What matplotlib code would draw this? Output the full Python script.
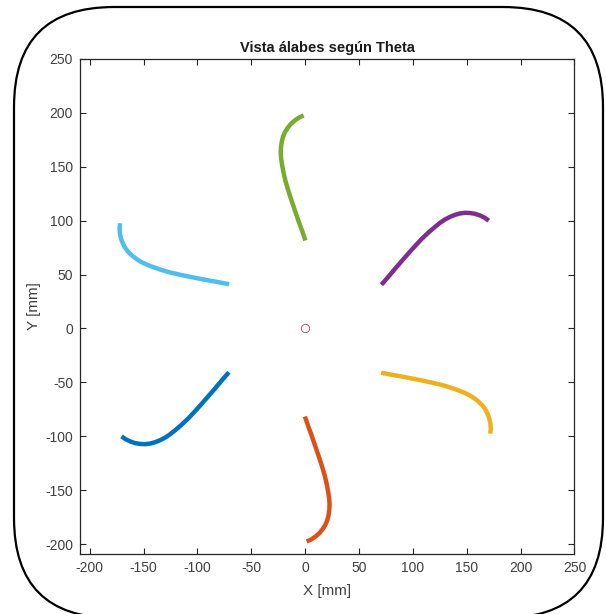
"""Vista de los álabes del rodete según Theta (réplica de figura MATLAB)."""

import matplotlib

matplotlib.use("Agg")
import matplotlib.pyplot as plt
import numpy as np
from matplotlib.patches import FancyBboxPatch
from matplotlib.transforms import IdentityTransform

plt.rcParams["font.family"] = ["Liberation Sans", "DejaVu Sans"]
plt.rcParams["axes.unicode_minus"] = False

# perfil del álabe base (el morado), en mm
blade_x = [70.8, 77.5, 83.7, 89.8, 96.0, 102.1, 108.3, 114.4, 120.6, 125.2,
           129.8, 134.4, 139.1, 143.7, 148.3, 152.9, 157.5, 162.1, 166.7, 170.4]
blade_y = [40.6, 48.3, 55.7, 62.7, 69.8, 76.6, 83.2, 89.0, 94.3, 98.0,
           101.1, 103.5, 105.4, 106.7, 107.3, 107.1, 106.4, 104.9, 102.7, 100.0]

# giro de cada álabe respecto al base (grados), en el orden de dibujo
theta_deg = [180, 240, 300, 360, 420, 480]

# colores por defecto de MATLAB
colors = ["#0072BD", "#D95319", "#EDB120", "#7E2F8E", "#77AC30", "#4DBEEE"]
hub_color = "#A2142F"

xticks = [-200, -150, -100, -50, 0, 50, 100, 150, 200, 250]
yticks = [-200, -150, -100, -50, 0, 50, 100, 150, 200, 250]

fig = plt.figure(figsize=(6.06, 6.14), dpi=100)
ax = fig.add_axes([0.132, 0.098, 0.816, 0.806])

bx = np.array(blade_x)
by = np.array(blade_y)
for th, col in zip(theta_deg, colors):
    t = np.deg2rad(th)
    xr = bx * np.cos(t) - by * np.sin(t)
    yr = bx * np.sin(t) + by * np.cos(t)
    ax.plot(xr, yr, color=col, lw=3.2, solid_capstyle="butt", solid_joinstyle="round")

ax.plot([0], [0], "o", ms=6, mfc="none", mec=hub_color, mew=0.6, alpha=0.8)

ax.set_xlim(-209, 249)
ax.set_ylim(-209, 248)
ax.set_xticks(xticks)
ax.set_yticks(yticks)
ax.tick_params(direction="in", length=4, width=0.8, top=True, right=True,
               labelsize=10, colors="#262626", labelcolor="#404040", pad=5)
for sp in ax.spines.values():
    sp.set_linewidth(0.9)
    sp.set_color("#262626")

ax.set_title("Vista álabes según Theta", fontsize=10.5, fontweight="bold", color="#1a1a1a", pad=5)
ax.set_xlabel("X [mm]", fontsize=11, color="#404040", labelpad=7)
ax.set_ylabel("Y [mm]", fontsize=11, color="#404040", labelpad=3)

# marco redondeado alrededor de la figura (en píxeles)
frame = FancyBboxPatch((14, -4), 589, 611, boxstyle="round,pad=0,rounding_size=100",
                       transform=IdentityTransform(), fill=False, ec="black", lw=1.6,
                       clip_on=False)
fig.patches.append(frame)

fig.savefig("out.png", dpi=100, facecolor="white")
